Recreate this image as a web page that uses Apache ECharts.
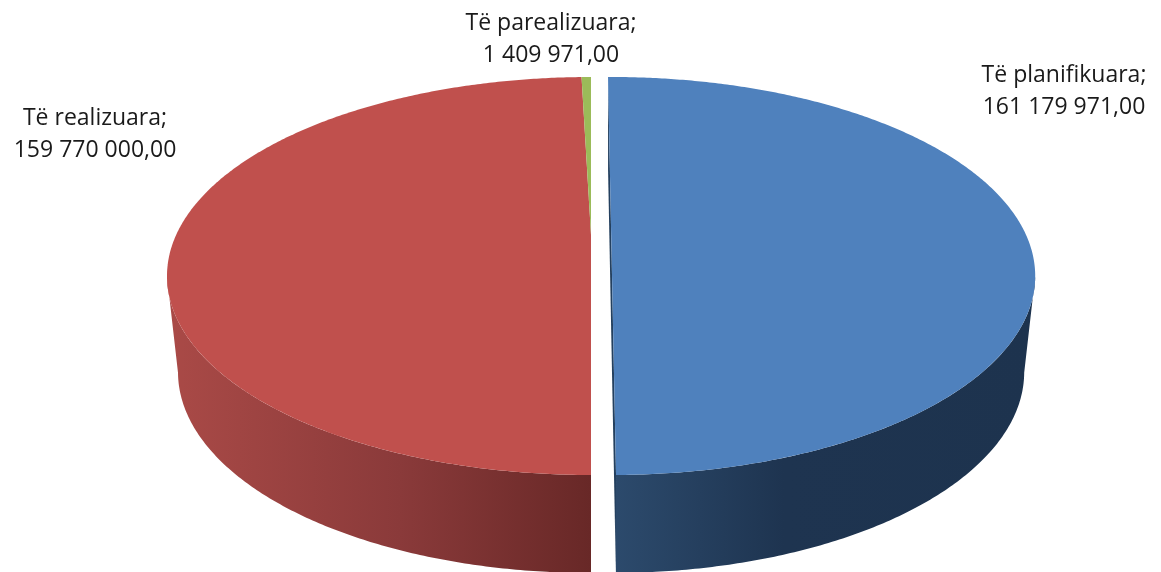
<!DOCTYPE html>
<html>
<head>
<meta charset="utf-8">
<title>Të planifikuara</title>
<script src="https://cdn.jsdelivr.net/npm/echarts@6/dist/echarts.min.js"></script>
<style>
    html, body {
        margin: 0;
        background: #ffffff;
    }

    #pieChart {
        width: 1161px;
        height: 572px;
    }
</style>
</head>
<body>
<div id="pieChart"></div>
<script>
    var categories = ['Të planifikuara', 'Të realizuara', 'Të parealizuara'];
    var values = [161179971, 159770000, 1409971];

    var faceColors = ['#4F81BD', '#C0504D', '#9BBB59'];
    var wallStops = [
        [[0, '#2C4A6C'], [0.4, '#1E3450'], [1, '#1D334E']],
        [[0, '#AA4A47'], [0.55, '#8A3A3A'], [1, '#682827']],
        null
    ];
    // blue slice is pulled out of the pie, and turns a little with the perspective
    var sliceCenterX = [611.2, 591, 591];
    var sliceTilt = [-0.53, 0, 0];
    var labelCenters = [[1064, 91], [95, 134], [551, 39]];

    // the top of the pie and its foot, seen in perspective
    var topDisc = disc(424, 77, 235, 475);
    var footDisc = disc(413, 171, 331, 573);
    var frontFrom = 102;
    var frontTo = 258;

    var total = values.reduce(function (a, b) {
        return a + b
    }, 0);

    function disc(halfWidth, yTop, yMid, yBottom) {
        var c = (2 * yMid - yTop - yBottom) / (yBottom - yTop);
        return {
            k: halfWidth * Math.sqrt(1 - c * c),
            a: yMid - yTop * (1 - c),
            c: c,
            yMid: yMid
        }
    }

    function project(d, cx, deg) {
        var t = deg * Math.PI / 180;
        var v = -Math.cos(t);
        var w = 1 + d.c * v;
        return [cx + d.k * Math.sin(t) / w, (d.a * v + d.yMid) / w];
    }

    function arc(d, cx, from, to) {
        var pts = [];
        var n = Math.max(2, Math.ceil(Math.abs(to - from) * 2));
        for (var i = 0; i <= n; i++) {
            pts.push(project(d, cx, from + (to - from) * i / n));
        }
        return pts;
    }

    function formatValue(v) {
        return String(v).replace(/\B(?=(\d{3})+$)/g, ' ') + ',00';
    }

    function renderSlice(params, api) {
        var i = params.dataIndex;
        var before = 0;
        for (var j = 0; j < i; j++) {
            before += values[j];
        }
        var cx = sliceCenterX[i];
        var from = before / total * 360 + sliceTilt[i];
        var to = from + api.value(0) / total * 360;
        var children = [];

        // inner cut of the pulled out slice
        if (sliceTilt[i] !== 0) {
            children.push({
                type: 'polygon',
                shape: {
                    points: [
                        project(topDisc, cx, from),
                        project(topDisc, cx, to),
                        project(footDisc, cx, to),
                        project(footDisc, cx, from)
                    ]
                },
                style: {fill: '#24405F'}
            });
        }

        // outer wall, only the front of the pie shows
        var wallFrom = Math.max(from, frontFrom);
        var wallTo = Math.min(to, frontTo);
        if (wallStops[i] && wallTo > wallFrom) {
            var upper = arc(topDisc, cx, wallFrom, wallTo);
            var lower = arc(footDisc, cx, wallFrom, wallTo).reverse();
            var xs = upper.map(function (p) {
                return p[0]
            });
            children.push({
                type: 'polygon',
                shape: {points: upper.concat(lower)},
                style: {
                    fill: new echarts.graphic.LinearGradient(
                        Math.min.apply(null, xs), 0, Math.max.apply(null, xs), 0,
                        wallStops[i].map(function (s) {
                            return {offset: s[0], color: s[1]}
                        }),
                        true
                    )
                }
            });
        }

        // top face, the wedge meets at the perspective centre
        var face = [[cx, topDisc.yMid]].concat(arc(topDisc, cx, from, to));
        children.push({
            type: 'polygon',
            shape: {points: face},
            style: {fill: faceColors[i]}
        });

        children.push({
            type: 'text',
            z2: 10,
            style: {
                x: labelCenters[i][0],
                y: labelCenters[i][1],
                text: api.value(1) + ';\n' + formatValue(api.value(0)),
                align: 'center',
                verticalAlign: 'middle',
                fill: '#1a1a1a',
                font: '23px "Open Sans"',
                lineHeight: 32
            }
        });

        return {type: 'group', children: children};
    }

    var pieChart = echarts.init(document.getElementById('pieChart'));
    var option = {
        backgroundColor: '#ffffff',
        animation: false,
        tooltip: {show: false},
        series: [{
            type: 'custom',
            coordinateSystem: 'none',
            silent: true,
            renderItem: renderSlice,
            dimensions: ['value', {name: 'name', type: 'ordinal'}],
            data: categories.map(function (name, i) {
                return [values[i], name]
            })
        }]
    };
    pieChart.setOption(option);
</script>
</body>
</html>
